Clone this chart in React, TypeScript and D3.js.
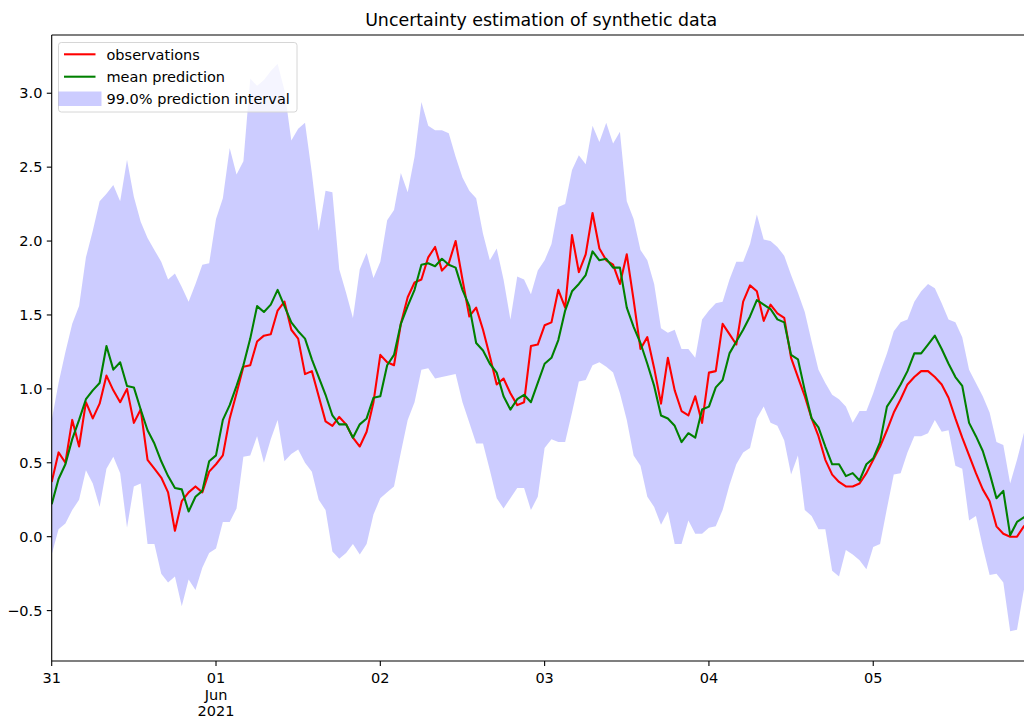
import React, { useEffect, useRef } from 'react';
import * as d3 from 'd3';

// hourly series, 31 May 2021 00:00 to 05 Jun 2021 23:00 (UTC)
const startTime = Date.UTC(2021, 4, 31, 0, 0);

const observations = [
  0.37, 0.57, 0.50, 0.79, 0.61, 0.91, 0.80, 0.90, 1.09, 0.99, 0.91, 1.00, 0.77, 0.86, 0.52, 0.46, 0.40, 0.30, 0.04, 0.24, 0.30, 0.34, 0.30, 0.44,
  0.49, 0.55, 0.80, 0.97, 1.15, 1.16, 1.32, 1.36, 1.37, 1.53, 1.59, 1.40, 1.34, 1.10, 1.12, 0.95, 0.78, 0.75, 0.81, 0.76, 0.67, 0.61, 0.71, 0.91,
  1.23, 1.18, 1.16, 1.44, 1.62, 1.72, 1.74, 1.89, 1.96, 1.80, 1.85, 2.00, 1.74, 1.49, 1.55, 1.40, 1.22, 1.03, 1.07, 0.97, 0.89, 0.91, 1.29, 1.30,
  1.43, 1.45, 1.67, 1.55, 2.04, 1.79, 1.91, 2.19, 1.95, 1.87, 1.84, 1.71, 1.91, 1.60, 1.27, 1.35, 1.14, 0.90, 1.21, 0.99, 0.85, 0.82, 0.95, 0.77,
  1.11, 1.12, 1.44, 1.37, 1.30, 1.59, 1.70, 1.66, 1.46, 1.57, 1.51, 1.48, 1.21, 1.08, 0.95, 0.80, 0.68, 0.52, 0.42, 0.37, 0.34, 0.34, 0.36, 0.43,
  0.52, 0.61, 0.72, 0.84, 0.93, 1.03, 1.08, 1.12, 1.12, 1.08, 1.03, 0.94, 0.80, 0.67, 0.55, 0.43, 0.32, 0.24, 0.07, 0.02, 0.00, 0.00, 0.07, 0.12,
];

const meanPrediction = [
  0.22, 0.39, 0.49, 0.66, 0.79, 0.93, 0.99, 1.04, 1.29, 1.13, 1.18, 1.02, 1.01, 0.86, 0.72, 0.63, 0.51, 0.41, 0.33, 0.32, 0.17, 0.27, 0.31, 0.51,
  0.55, 0.79, 0.89, 1.02, 1.16, 1.34, 1.56, 1.52, 1.57, 1.67, 1.56, 1.45, 1.39, 1.34, 1.20, 1.08, 0.96, 0.82, 0.76, 0.76, 0.67, 0.76, 0.80, 0.94,
  0.95, 1.16, 1.23, 1.44, 1.56, 1.67, 1.84, 1.85, 1.83, 1.88, 1.84, 1.82, 1.67, 1.56, 1.31, 1.26, 1.17, 1.11, 0.95, 0.86, 0.93, 0.96, 0.91, 1.04,
  1.17, 1.21, 1.33, 1.53, 1.66, 1.71, 1.77, 1.93, 1.87, 1.88, 1.82, 1.82, 1.55, 1.42, 1.31, 1.17, 1.02, 0.82, 0.80, 0.75, 0.64, 0.70, 0.67, 0.86,
  0.88, 1.01, 1.06, 1.24, 1.32, 1.40, 1.49, 1.60, 1.57, 1.54, 1.47, 1.45, 1.23, 1.20, 0.99, 0.80, 0.74, 0.61, 0.49, 0.49, 0.41, 0.43, 0.38, 0.49,
  0.53, 0.64, 0.88, 0.95, 1.03, 1.12, 1.24, 1.24, 1.30, 1.36, 1.27, 1.17, 1.08, 1.02, 0.77, 0.68, 0.58, 0.43, 0.26, 0.31, 0.01, 0.10, 0.13, 0.17,
];

const upperBound = [
  0.79, 1.04, 1.25, 1.44, 1.56, 1.89, 2.07, 2.27, 2.32, 2.38, 2.27, 2.55, 2.30, 2.13, 2.02, 1.94, 1.86, 1.74, 1.78, 1.69, 1.59, 1.71, 1.84, 1.85,
  2.15, 2.29, 2.63, 2.45, 2.54, 3.10, 3.05, 3.09, 3.15, 3.20, 3.02, 2.68, 2.76, 2.80, 2.46, 2.07, 2.34, 2.33, 1.81, 1.65, 1.48, 1.81, 1.92, 1.75,
  1.86, 2.14, 2.21, 2.46, 2.33, 2.57, 2.94, 2.78, 2.75, 2.75, 2.73, 2.57, 2.43, 2.34, 2.29, 2.05, 1.87, 1.95, 1.74, 1.47, 1.76, 1.74, 1.64, 1.80,
  1.87, 1.98, 2.23, 2.25, 2.48, 2.58, 2.52, 2.78, 2.67, 2.80, 2.66, 2.74, 2.27, 2.15, 1.94, 1.87, 1.71, 1.41, 1.38, 1.40, 1.27, 1.27, 1.21, 1.47,
  1.53, 1.58, 1.59, 1.74, 1.86, 1.86, 1.98, 2.18, 2.01, 2.00, 1.96, 1.90, 1.77, 1.65, 1.52, 1.32, 1.13, 1.04, 0.96, 0.93, 0.88, 0.77, 0.85, 0.85,
  0.97, 1.11, 1.24, 1.39, 1.45, 1.47, 1.59, 1.66, 1.71, 1.68, 1.58, 1.47, 1.45, 1.35, 1.13, 1.04, 0.95, 0.84, 0.64, 0.62, 0.36, 0.52, 0.70, 0.78,
];

const lowerBound = [
  -0.12, 0.05, 0.09, 0.18, 0.25, 0.45, 0.36, 0.20, 0.46, 0.54, 0.43, 0.06, 0.34, 0.36, -0.05, -0.05, -0.25, -0.31, -0.27, -0.47, -0.29, -0.36, -0.21, -0.11,
  -0.08, 0.10, 0.10, 0.19, 0.54, 0.55, 0.68, 0.50, 0.66, 0.79, 0.51, 0.56, 0.59, 0.50, 0.44, 0.25, 0.18, -0.10, -0.15, -0.11, -0.05, -0.12, -0.05, 0.15,
  0.26, 0.30, 0.34, 0.57, 0.79, 0.91, 1.13, 1.14, 1.07, 1.08, 1.09, 1.10, 0.91, 0.77, 0.63, 0.63, 0.45, 0.26, 0.19, 0.26, 0.33, 0.33, 0.18, 0.27,
  0.60, 0.66, 0.64, 0.64, 0.84, 1.05, 1.06, 1.16, 1.18, 1.15, 1.11, 0.97, 0.79, 0.55, 0.48, 0.27, 0.20, 0.08, 0.17, -0.05, -0.05, 0.11, 0.02, 0.02,
  0.06, 0.07, 0.18, 0.35, 0.49, 0.57, 0.60, 0.80, 0.88, 0.77, 0.75, 0.65, 0.42, 0.55, 0.18, 0.14, 0.05, 0.05, -0.23, -0.27, -0.09, -0.12, -0.16, -0.22,
  -0.07, -0.05, 0.19, 0.42, 0.43, 0.57, 0.68, 0.68, 0.70, 0.79, 0.71, 0.72, 0.48, 0.46, 0.11, 0.14, -0.07, -0.26, -0.25, -0.31, -0.64, -0.63, -0.36, -0.30,
];

const yTicks = [-0.5, 0, 0.5, 1, 1.5, 2, 2.5, 3];
const xTickLabels = [['31'], ['01', 'Jun', '2021'], ['02'], ['03'], ['04'], ['05']];
const legendLabels = ['observations', 'mean prediction', '99.0% prediction interval'];
const title = 'Uncertainty estimation of synthetic data';

const FONT = 'DejaVu Sans, sans-serif';
const TICK_SIZE = '14.5px';

function UncertaintyChart() {
  const svgRef = useRef(null);

  useEffect(() => {
    const svg = d3.select(svgRef.current);
    svg.selectAll('*').remove();

    const width = 1024;
    const height = 721;
    const plot = { left: 51.7, right: 1030.7, top: 35, bottom: 661 };

    const rows = observations.map((obs, i) => ({
      t: new Date(startTime + i * 3600 * 1000),
      obs,
      mean: meanPrediction[i],
      lo: lowerBound[i],
      hi: upperBound[i],
    }));

    const x = d3.scaleUtc()
      .domain([rows[0].t, rows[rows.length - 1].t])
      .range([plot.left, plot.right]);

    const y = d3.scaleLinear()
      .domain([-0.841, 3.394])
      .range([plot.bottom, plot.top]);

    svg.append('rect').attr('width', width).attr('height', height).attr('fill', '#fff');

    svg.append('defs').append('clipPath').attr('id', 'plot-clip')
      .append('rect')
      .attr('x', plot.left).attr('y', plot.top)
      .attr('width', plot.right - plot.left).attr('height', plot.bottom - plot.top);

    const g = svg.append('g').attr('clip-path', 'url(#plot-clip)');

    // prediction interval
    const band = d3.area()
      .x(d => x(d.t))
      .y0(d => y(d.lo))
      .y1(d => y(d.hi));

    g.append('path')
      .datum(rows)
      .attr('d', band)
      .attr('fill', '#0000ff')
      .attr('fill-opacity', 0.2);

    const obsLine = d3.line().x(d => x(d.t)).y(d => y(d.obs));
    const meanLine = d3.line().x(d => x(d.t)).y(d => y(d.mean));

    g.append('path')
      .datum(rows)
      .attr('d', obsLine)
      .attr('fill', 'none')
      .attr('stroke', '#ff0000')
      .attr('stroke-width', 2.08)
      .attr('stroke-linejoin', 'round');

    g.append('path')
      .datum(rows)
      .attr('d', meanLine)
      .attr('fill', 'none')
      .attr('stroke', '#008000')
      .attr('stroke-width', 2.08)
      .attr('stroke-linejoin', 'round');

    // spines
    const spines = svg.append('g').attr('stroke', '#000').attr('stroke-width', 1.1).attr('fill', 'none');
    spines.append('line').attr('x1', plot.left).attr('x2', plot.left).attr('y1', plot.top).attr('y2', plot.bottom);
    spines.append('line').attr('x1', plot.left).attr('x2', plot.right).attr('y1', plot.top).attr('y2', plot.top);
    spines.append('line').attr('x1', plot.left).attr('x2', plot.right).attr('y1', plot.bottom).attr('y2', plot.bottom);
    spines.append('line').attr('x1', plot.right).attr('x2', plot.right).attr('y1', plot.top).attr('y2', plot.bottom);

    // y axis ticks
    const fmt = d3.format('.1f');
    yTicks.forEach(v => {
      const yy = y(v);
      svg.append('line')
        .attr('x1', plot.left - 4.9).attr('x2', plot.left)
        .attr('y1', yy).attr('y2', yy)
        .attr('stroke', '#000').attr('stroke-width', 1.1);
      svg.append('text')
        .attr('x', plot.left - 9.3)
        .attr('y', yy + 5.2)
        .attr('text-anchor', 'end')
        .style('font-family', FONT)
        .style('font-size', TICK_SIZE)
        .attr('fill', '#000')
        .text(fmt(v));
    });

    // x axis ticks (one per day)
    xTickLabels.forEach((lines, i) => {
      const xx = x(new Date(startTime + i * 24 * 3600 * 1000));
      svg.append('line')
        .attr('x1', xx).attr('x2', xx)
        .attr('y1', plot.bottom).attr('y2', plot.bottom + 4.9)
        .attr('stroke', '#000').attr('stroke-width', 1.1);
      const txt = svg.append('text')
        .attr('text-anchor', 'middle')
        .style('font-family', FONT)
        .style('font-size', TICK_SIZE)
        .attr('fill', '#000');
      lines.forEach((s, j) => {
        txt.append('tspan')
          .attr('x', xx)
          .attr('y', 683 + j * 16.5)
          .text(s);
      });
    });

    // title
    svg.append('text')
      .attr('x', (plot.left + plot.right) / 2)
      .attr('y', 26)
      .attr('text-anchor', 'middle')
      .style('font-family', FONT)
      .style('font-size', '17.4px')
      .attr('fill', '#000')
      .text(title);

    // legend
    const lg = svg.append('g');
    lg.append('rect')
      .attr('x', 58.5).attr('y', 42.5)
      .attr('width', 238.5).attr('height', 69.5)
      .attr('rx', 2.8)
      .attr('fill', '#fff').attr('fill-opacity', 0.8)
      .attr('stroke', '#d6d6d6').attr('stroke-width', 1);

    const rowY = [54.3, 76.7, 98.8];
    lg.append('line')
      .attr('x1', 64).attr('x2', 95.5).attr('y1', rowY[0]).attr('y2', rowY[0])
      .attr('stroke', '#ff0000').attr('stroke-width', 2.08);
    lg.append('line')
      .attr('x1', 64).attr('x2', 95.5).attr('y1', rowY[1]).attr('y2', rowY[1])
      .attr('stroke', '#008000').attr('stroke-width', 2.08);
    lg.append('rect')
      .attr('x', 58.5).attr('y', 91.5)
      .attr('width', 43).attr('height', 14.5)
      .attr('fill', '#0000ff').attr('fill-opacity', 0.2);

    legendLabels.forEach((label, i) => {
      lg.append('text')
        .attr('x', 106.5)
        .attr('y', rowY[i] + 5.2)
        .style('font-family', FONT)
        .style('font-size', TICK_SIZE)
        .attr('fill', '#000')
        .text(label);
    });
  }, []);

  return (
    <svg
      ref={svgRef}
      width={1024}
      height={721}
      style={{ position: 'absolute', left: 0, top: 0, display: 'block' }}
    />
  );
}

export default function App() {
  return <UncertaintyChart />;
}
